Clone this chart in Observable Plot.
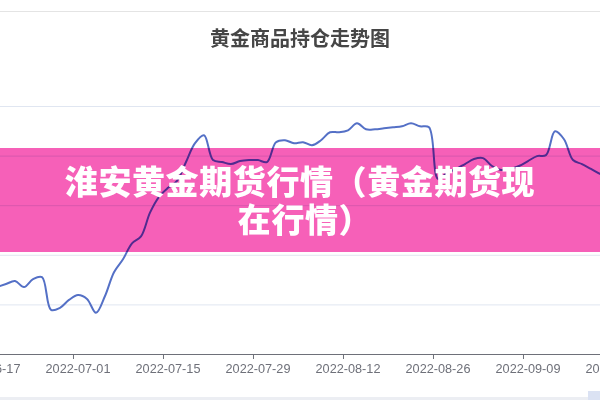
<!DOCTYPE html>
<html>
<head>
<meta charset="utf-8">
<script src="https://cdn.jsdelivr.net/npm/d3@7"></script>
<script src="https://cdn.jsdelivr.net/npm/@observablehq/plot@0.6"></script>
<style>
  body { margin:0; background:#fff; width:600px; height:400px; overflow:hidden; position:relative; font-family:"Noto Sans CJK SC", sans-serif; }
  #sep { position:absolute; left:0; top:11px; width:600px; height:1px; background:#e4e4e4; }
  #title { position:absolute; top:26px; left:0; width:600px; text-align:center; font-size:20px; font-weight:bold; color:#464646; line-height:24px; }
  #chart { position:absolute; left:0; top:80px; }
  #banner { position:absolute; left:0; top:148px; width:600px; height:104px; background:#f660b8; mix-blend-mode:multiply; }
  #btext { position:absolute; left:0; top:161px; width:600px; text-align:center; color:#fff; font-size:33px; font-weight:900; line-height:38px; letter-spacing:0.6px; }
  #btext div { height:38px; }
  #slider { position:absolute; left:0; top:397px; width:600px; height:3px; background:#eceef3; }
  #handle { position:absolute; left:588px; top:391px; width:12px; height:9px; background:#dbe2f3; }
</style>
</head>
<body>
<div id="sep"></div>
<div id="title">黄金商品持仓走势图</div>
<div id="chart"></div>
<div id="banner"></div>
<div id="btext"><div>淮安黄金期货行情（黄金期货现</div><div style="padding-left:10px">在行情）</div></div>
<div id="slider"></div>
<div id="handle"></div>
<script>
// trading days (category axis)
const dates = [
  "2022-06-17","2022-06-20","2022-06-21","2022-06-22","2022-06-23","2022-06-24",
  "2022-06-27","2022-06-28","2022-06-29","2022-06-30","2022-07-01",
  "2022-07-04","2022-07-05","2022-07-06","2022-07-07","2022-07-08",
  "2022-07-11","2022-07-12","2022-07-13","2022-07-14","2022-07-15",
  "2022-07-18","2022-07-19","2022-07-20","2022-07-21","2022-07-22",
  "2022-07-25","2022-07-26","2022-07-27","2022-07-28","2022-07-29",
  "2022-08-01","2022-08-02","2022-08-03","2022-08-04","2022-08-05",
  "2022-08-08","2022-08-09","2022-08-10","2022-08-11","2022-08-12",
  "2022-08-15","2022-08-16","2022-08-17","2022-08-18","2022-08-19",
  "2022-08-22","2022-08-23","2022-08-24","2022-08-25","2022-08-26",
  "2022-08-29","2022-08-30","2022-08-31","2022-09-01","2022-09-02",
  "2022-09-05","2022-09-06","2022-09-07","2022-09-08","2022-09-09",
  "2022-09-13","2022-09-14","2022-09-15","2022-09-16",
  "2022-09-19","2022-09-20","2022-09-21","2022-09-22","2022-09-23",
  "2022-09-26"
];
// holdings
const holdings = [
  65, 68, 71, 74, 68, 76, 78, 45, 47, 55,
  60, 56, 42, 59, 83, 96, 112, 119, 143, 159,
  168, 175, 194, 213, 221, 196, 194, 192, 195, 196,
  196, 194, 214, 216, 213, 214, 211, 216, 224, 224,
  226, 233, 227, 227, 228, 229, 230, 233, 230, 229,
  177, 183, 187, 192, 197, 198, 190, 186, 187, 190,
  195, 200, 201, 225, 217, 196, 192, 187, 182, 179,
  177
];
const gridValues = [50, 100, 150, 200, 250];
const labelStep = 10;

const table = dates.map((d, i) => ({i, date: d, value: holdings[i]}));
const labelTicks = d3.range(0, dates.length, labelStep);
const boundaryTicks = labelTicks.map(i => i - 0.5);

const chart = Plot.plot({
  width: 600,
  height: 300,
  marginTop: 26,
  marginBottom: 26,
  marginLeft: 0,
  marginRight: 0,
  style: {fontFamily: '"Liberation Sans", Arial, sans-serif', fontSize: "12.7px", color: "#6e7079", background: "transparent"},
  x: {type: "linear", domain: [1.3889, 68.0556]},
  y: {domain: [0, 250], axis: null},
  marks: [
    Plot.ruleY(gridValues, {stroke: "#e0e6f1"}),
    Plot.ruleY([0], {stroke: "#6e7079"}),
    Plot.axisX(boundaryTicks, {tickSize: 5, tickFormat: () => "", label: null}),
    Plot.axisX(labelTicks, {tickSize: 0, tickPadding: 9, tickFormat: i => dates[i], label: null}),
    Plot.line(table, {x: "i", y: "value", stroke: "#5470c6", strokeWidth: 2, curve: "catmull-rom", clip: true})
  ]
});
document.getElementById("chart").appendChild(chart);
</script>
</body>
</html>
